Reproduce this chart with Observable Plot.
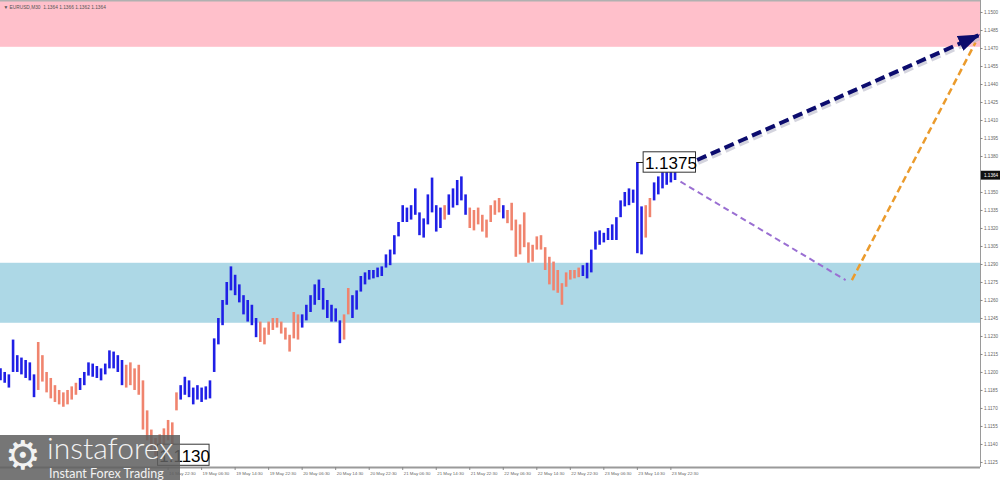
<!DOCTYPE html>
<html>
<head>
<meta charset="utf-8">
<script src="https://cdn.jsdelivr.net/npm/d3@7"></script>
<script src="https://cdn.jsdelivr.net/npm/@observablehq/plot@0.6"></script>
<style>
  html, body { margin: 0; padding: 0; background: #fff; }
  #wrap { position: relative; width: 1000px; height: 480px; overflow: hidden; }
  #chart svg { display: block; }
  #logo { position: absolute; left: 0; top: 435px; width: 180px; height: 45px;
          background: rgba(95, 95, 95, 0.86); color: #f2f2f2;
          font-family: Lato, "Open Sans", "DejaVu Sans", sans-serif; overflow: visible; }
  #logo .gear { position: absolute; left: 5px; top: -3px; font-size: 40px; line-height: 46px; font-family: "DejaVu Sans", sans-serif; }
  #logo .brand { position: absolute; left: 47px; top: -2px; font-size: 30px; font-weight: 300; line-height: 28px; white-space: nowrap; }
  #logo .tag { position: absolute; left: 49px; top: 33px; font-size: 12.5px; line-height: 12px; white-space: nowrap; }
</style>
</head>
<body>
<div id="wrap">
  <div id="chart"></div>
  <div id="logo"><span class="gear">⚙</span><div class="brand">instaforex</div><div class="tag">Instant Forex Trading</div></div>
</div>
<script>
// ---- Data (EURUSD bars, one per bar index) ----
const barHigh = [
  1.1203,1.1200,1.1198,1.1227,1.1214,1.1212,1.1210,1.1208,1.1198,1.1225,
  1.1214,1.1200,1.1195,1.1189,1.1185,1.1183,1.1185,1.1188,1.1191,1.1195,
  1.1200,1.1208,1.1207,1.1205,1.1203,1.1207,1.1218,1.1217,1.1214,1.1210,
  1.1206,1.1208,1.1203,1.1206,1.1193,1.1168,1.1152,1.1145,1.1148,1.1153,
  1.1160,1.1158,1.1183,1.1189,1.1196,1.1193,1.1187,1.1189,1.1187,1.1188,
  1.1193,1.1228,1.1245,1.1260,1.1275,1.1288,1.1281,1.1273,1.1264,1.1260,
  1.1256,1.1245,1.1242,1.1237,1.1242,1.1245,1.1245,1.1242,1.1237,1.1231,
  1.1250,1.1248,1.1248,1.1256,1.1264,1.1273,1.1277,1.1270,1.1260,1.1256,
  1.1253,1.1243,1.1248,1.1270,1.1264,1.1268,1.1280,1.1283,1.1285,1.1285,
  1.1287,1.1288,1.1298,1.1302,1.1314,1.1325,1.1339,1.1337,1.1339,1.1353,
  1.1333,1.1328,1.1348,1.1362,1.1339,1.1337,1.1339,1.1348,1.1353,1.1360,
  1.1363,1.1348,1.1337,1.1335,1.1337,1.1331,1.1327,1.1339,1.1343,1.1345,
  1.1339,1.1335,1.1341,1.1327,1.1323,1.1333,1.1308,1.1306,1.1313,1.1314,
  1.1304,1.1296,1.1292,1.1285,1.1274,1.1283,1.1285,1.1285,1.1287,1.1289,
  1.1291,1.1302,1.1317,1.1318,1.1316,1.1320,1.1323,1.1329,1.1343,1.1350,
  1.1353,1.1352,1.1375,1.1338,1.1339,1.1345,1.1358,1.1363,1.1368,1.1367,
  1.1368,1.1367
];
const barLow = [
  1.1193,1.1191,1.1187,1.1200,1.1200,1.1198,1.1195,1.1193,1.1179,1.1185,
  1.1192,1.1183,1.1178,1.1175,1.1173,1.1171,1.1173,1.1177,1.1181,1.1185,
  1.1189,1.1197,1.1196,1.1195,1.1193,1.1198,1.1203,1.1203,1.1200,1.1189,
  1.1187,1.1189,1.1185,1.1181,1.1152,1.1143,1.1135,1.1130,1.1133,1.1137,
  1.1143,1.1139,1.1168,1.1177,1.1181,1.1179,1.1173,1.1177,1.1175,1.1177,
  1.1178,1.1200,1.1223,1.1239,1.1256,1.1268,1.1264,1.1258,1.1248,1.1242,
  1.1239,1.1229,1.1225,1.1223,1.1231,1.1235,1.1237,1.1232,1.1227,1.1217,
  1.1228,1.1227,1.1237,1.1243,1.1250,1.1256,1.1260,1.1252,1.1245,1.1242,
  1.1242,1.1224,1.1227,1.1248,1.1245,1.1252,1.1267,1.1273,1.1277,1.1278,
  1.1279,1.1280,1.1287,1.1289,1.1298,1.1313,1.1325,1.1325,1.1327,1.1331,
  1.1314,1.1312,1.1323,1.1333,1.1317,1.1320,1.1327,1.1331,1.1337,1.1339,
  1.1343,1.1331,1.1320,1.1318,1.1323,1.1317,1.1312,1.1325,1.1331,1.1333,
  1.1328,1.1324,1.1318,1.1296,1.1298,1.1304,1.1291,1.1292,1.1302,1.1302,
  1.1285,1.1273,1.1268,1.1266,1.1256,1.1271,1.1277,1.1278,1.1279,1.1280,
  1.1278,1.1283,1.1302,1.1306,1.1308,1.1310,1.1310,1.1310,1.1329,1.1338,
  1.1339,1.1341,1.1299,1.1298,1.1312,1.1329,1.1343,1.1348,1.1353,1.1356,
  1.1358,1.1360
];
// wave segments: bar index ranges coloured as up-wave (blue) or down-wave (salmon)
const waveSegments = [
  [0, 8, "up"], [9, 18, "down"], [19, 29, "up"], [30, 42, "down"], [43, 61, "up"],
  [62, 71, "down"], [72, 81, "up"], [82, 83, "down"], [84, 105, "up"], [106, 106, "down"],
  [107, 111, "up"], [112, 119, "down"], [120, 120, "up"], [121, 138, "down"],
  [139, 153, "up"], [154, 155, "down"], [156, 161, "up"]
];
// price axis tick labels
const priceTicks = [1.1125,1.1140,1.1155,1.1170,1.1185,1.1200,1.1215,1.1230,1.1245,1.1260,
  1.1275,1.1290,1.1305,1.1320,1.1335,1.1350,1.1380,1.1395,1.1410,1.1425,1.1440,1.1455,1.1470,1.1485,1.1500];
const currentPrice = 1.1364;
// time axis labels (one every 8 bars; earlier ones are hidden under the logo)
const timeLabels = ["16 May 22:30",
  "19 May 06:30","19 May 14:30","19 May 22:30","20 May 06:30","20 May 14:30","20 May 22:30",
  "21 May 06:30","21 May 14:30","21 May 22:30","22 May 06:30","22 May 14:30","22 May 22:30",
  "23 May 06:30","23 May 14:30","23 May 22:30"];
const firstLabelBar = 40, labelEvery = 8;
// zones
const resistanceZone = {top: 1.1510, bottom: 1.1471};
const supportZone = {top: 1.1291, bottom: 1.1241};
// forecast paths (bar index, price)
const mainForecast = [{i: 163.0, price: 1.1372}, {i: 233.4, price: 1.1481}];
const correctionDown = [{i: 162.3, price: 1.1359}, {i: 201.7, price: 1.1277}];
const correctionUp = [{i: 203.2, price: 1.1277}, {i: 232.7, price: 1.1475}];
// extreme labels
const highLabel = {i: 152, price: 1.1375, text: "1.1375"};
const lowLabel = {i: 37, price: 1.1131, text: "1.1130"};
const header = "▼ EURUSD,M30  1.1364 1.1366 1.1362 1.1364";

// ---- build ----
const xMax = 233.9, yMin = 1.11208, yMax = 1.1510;
const bars = barHigh.map((h, i) => {
  const seg = waveSegments.find(s => i >= s[0] && i <= s[1]);
  return {i, high: h, low: barLow[i], dir: seg ? seg[2] : "up"};
});
const asLink = p => [{x1: p[0].i, y1: p[0].price, x2: p[1].i, y2: p[1].price}];
const BLUE = "#1f1fe6", SALMON = "#f0846e";

function filledHead(color, context) {
  const m = d3.create("svg:marker")
    .attr("viewBox", "-20 -8 22 16")
    .attr("markerWidth", 22).attr("markerHeight", 16)
    .attr("markerUnits", "userSpaceOnUse")
    .attr("orient", "auto")
    .attr("fill", color).attr("stroke", "none");
  m.append("path").attr("d", "M-20,-8L2,0L-20,8Z");
  return m.node();
}

function build(head) {
  return Plot.plot({
    width: 1000, height: 480,
    marginLeft: 0, marginRight: 20, marginTop: 0, marginBottom: 13,
    x: {domain: [0, xMax], axis: null},
    y: {domain: [yMin, yMax], axis: null},
    style: {background: "white", fontFamily: "'Liberation Sans', Arial, sans-serif", overflow: "visible"},
    marks: [
      Plot.rect([resistanceZone], {x1: 0, x2: xMax, y1: "bottom", y2: "top", fill: "#ffc0cb"}),
      Plot.rect([supportZone], {x1: 0, x2: xMax, y1: "bottom", y2: "top", fill: "#add8e6"}),
      Plot.ruleX(bars.filter(d => d.dir === "up"), {x: "i", y1: "low", y2: "high", stroke: BLUE, strokeWidth: 2.6}),
      Plot.ruleX(bars.filter(d => d.dir === "down"), {x: "i", y1: "low", y2: "high", stroke: SALMON, strokeWidth: 2.6}),
      // axes frame
      Plot.ruleX([xMax], {stroke: "#9a9a9a", strokeWidth: 1}),
      Plot.ruleY([yMin], {stroke: "#9a9a9a", strokeWidth: 2}),
      Plot.ruleY([yMax], {stroke: "#b0b0b0", strokeWidth: 2}),
      // price axis
      Plot.ruleY(priceTicks, {x1: xMax, x2: xMax + 0.6, stroke: "#888"}),
      Plot.text(priceTicks, {y: d => d, frameAnchor: "right", dx: 3.5, textAnchor: "start",
        text: d => d.toFixed(4), fontSize: 4.6, fill: "#666"}),
      Plot.rect([currentPrice], {x1: xMax + 0.2, x2: xMax + 4.8, y1: d => d - 0.00037, y2: d => d + 0.00037, fill: "#111"}),
      Plot.text([currentPrice], {y: d => d, frameAnchor: "right", dx: 3.5, textAnchor: "start",
        text: d => d.toFixed(4), fontSize: 4.6, fill: "white"}),
      // time axis
      Plot.ruleX(timeLabels, {x: (d, j) => firstLabelBar + j * labelEvery, y1: yMin, y2: yMin - 0.00025, stroke: "#888"}),
      Plot.text(timeLabels, {x: (d, j) => firstLabelBar + j * labelEvery, frameAnchor: "bottom", dy: 7, dx: 1,
        textAnchor: "start", text: d => d, fontSize: 4.4, fill: "#666"}),
      // header
      Plot.text([header], {frameAnchor: "top-left", dx: 3, dy: 5, text: d => d, fontSize: 4.8, fill: "#555"}),
      // forecast arrows
      Plot.link(asLink(correctionDown), {x1: "x1", y1: "y1", x2: "x2", y2: "y2",
        stroke: "#9a6fd2", strokeWidth: 2, strokeDasharray: "6,4"}),
      Plot.link(asLink(correctionUp), {x1: "x1", y1: "y1", x2: "x2", y2: "y2",
        stroke: "#eb9b2c", strokeWidth: 2.5, strokeDasharray: "7,4"}),
      Plot.link(asLink(mainForecast), {x1: "x1", y1: "y1", x2: "x2", y2: "y2", dx: 1, dy: 3,
        stroke: "#b8b8c8", strokeWidth: 4, strokeDasharray: "10,5", strokeOpacity: 0.6}),
      Plot.link(asLink(mainForecast), {x1: "x1", y1: "y1", x2: "x2", y2: "y2",
        stroke: "#0c0c6e", strokeWidth: 4, strokeDasharray: "10,5", markerEnd: head}),
      // extreme labels
      Plot.ruleY([highLabel], {y: "price", x1: d => d.i, x2: d => d.i + 1.5, stroke: "#222"}),
      Plot.rect([highLabel], {x1: d => d.i + 1.5, x2: d => d.i + 14.0, y1: d => d.price - 0.00085, y2: d => d.price + 0.00085,
        fill: "white", stroke: "#333"}),
      Plot.text([highLabel], {x: d => d.i + 1.8, y: "price", text: "text", textAnchor: "start", fontSize: 17, fill: "#000", dy: 1}),
      Plot.rect([lowLabel], {x1: d => d.i + 0.6, x2: d => d.i + 12.9, y1: d => d.price - 0.00088, y2: d => d.price + 0.00088,
        fill: "white", stroke: "#333"}),
      Plot.text([lowLabel], {x: d => d.i + 0.9, y: "price", text: "text", textAnchor: "start", fontSize: 17, fill: "#000", dy: 1})
    ]
  });
}

let chart;
try { chart = build(filledHead); } catch (e) { chart = build("arrow"); }
document.getElementById("chart").append(chart);
</script>
</body>
</html>
